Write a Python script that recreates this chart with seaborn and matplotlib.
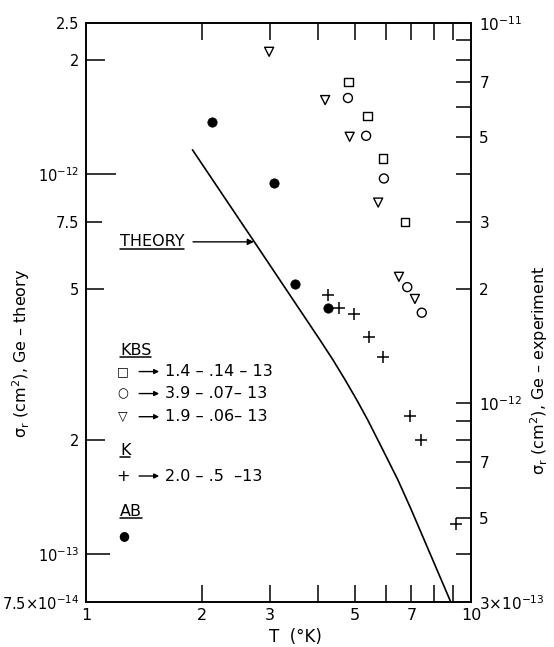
import numpy as np
import pandas as pd
import seaborn as sns
import matplotlib.pyplot as plt
from matplotlib.ticker import FixedLocator, FixedFormatter, NullFormatter, NullLocator
from matplotlib.lines import Line2D

# Theory curve (left axis, cm^2)
theory_T = [1.89, 2.77, 4.05, 4.38, 4.71, 5.05, 5.39, 5.91, 6.46, 7.00, 8.86]
theory_sigma = [1.16e-12, 6.52e-13, 3.67e-13, 3.25e-13, 2.88e-13, 2.55e-13,
                2.26e-13, 1.88e-13, 1.57e-13, 1.31e-13, 7.5e-14]

# AB (filled dots, left axis)
ab_T = [2.12, 3.08, 3.49, 4.26]
ab_sigma = [1.37e-12, 9.5e-13, 5.14e-13, 4.44e-13]

# KBS experiments (right axis)
kbs_sq_T = [4.81, 5.38, 5.91, 6.74]
kbs_sq_sigma = [7.0e-12, 5.7e-12, 4.4e-12, 3.0e-12]
kbs_ci_T = [4.79, 5.34, 5.94, 6.83, 7.45]
kbs_ci_sigma = [6.35e-12, 5.05e-12, 3.9e-12, 2.02e-12, 1.73e-12]
kbs_tri_T = [2.99, 4.18, 4.84, 5.74, 6.50, 7.15]
kbs_tri_sigma = [8.4e-12, 6.27e-12, 5.02e-12, 3.37e-12, 2.15e-12, 1.88e-12]

# K experiment (right axis)
k_T = [4.26, 4.55, 4.97, 5.44, 5.92, 6.94, 7.42, 9.14]
k_sigma = [1.92e-12, 1.78e-12, 1.72e-12, 1.49e-12, 1.32e-12, 9.25e-13, 8.0e-13, 4.8e-13]

# axis ticks
x_ticks = [1, 2, 3, 5, 7, 10]
x_labels = ["1", "2", "3", "5", "7", "10"]
x_minor = [4, 6, 8, 9]
left_ticks = [7.5e-14, 1e-13, 2e-13, 5e-13, 7.5e-13, 1e-12, 2e-12, 2.5e-12]
left_labels = ["7.5×10$^{-14}$", "10$^{-13}$", "2", "5", "7.5", "10$^{-12}$", "2", "2.5"]
left_lengths = [0, 17, 13.5, 13, 11.5, 21.5, 13.5, 0]
right_ticks = [3e-13, 5e-13, 7e-13, 1e-12, 2e-12, 3e-12, 5e-12, 7e-12, 1e-11]
right_labels = ["3×10$^{-13}$", "5", "7", "10$^{-12}$", "2", "3", "5", "7", "10$^{-11}$"]
right_minor = [4e-13, 6e-13, 8e-13, 9e-13, 4e-12, 6e-12, 8e-12, 9e-12]

# legend rows
legend_rows = [("□", "1.4 – .14 – 13"), ("○", "3.9 – .07– 13"), ("▽", "1.9 – .06– 13")]
k_row = ("+", "2.0 – .5  –13")

sns.set_style("ticks", {"axes.edgecolor": "black", "xtick.color": "black",
                        "ytick.color": "black", "text.color": "black",
                        "axes.labelcolor": "black"})
plt.rcParams['font.family'] = ['DejaVu Sans']
plt.rcParams['mathtext.fontset'] = 'dejavusans'
plt.rcParams['axes.linewidth'] = 1.2

fig, ax = plt.subplots(figsize=(5.54, 6.47), dpi=100)
fig.subplots_adjust(left=86/554, right=471/554, bottom=1-602/647, top=1-23/647)
ax2 = ax.twinx()

theory = pd.DataFrame({"T": theory_T, "sigma": theory_sigma})
sns.lineplot(data=theory, x="T", y="sigma", sort=False, estimator=None,
             color="black", lw=1.2, ax=ax)
sns.scatterplot(x=ab_T, y=ab_sigma, color="black", edgecolor="black", s=45, ax=ax, zorder=3)

sns.scatterplot(x=kbs_sq_T, y=kbs_sq_sigma, marker="s", s=36, color="black",
                facecolor="none", edgecolor="black", linewidth=1, ax=ax2)
sns.scatterplot(x=kbs_ci_T, y=kbs_ci_sigma, marker="o", s=42, color="black",
                facecolor="none", edgecolor="black", linewidth=1, ax=ax2)
sns.scatterplot(x=kbs_tri_T, y=kbs_tri_sigma, marker="v", s=42, color="black",
                facecolor="none", edgecolor="black", linewidth=1, ax=ax2)
sns.scatterplot(x=k_T, y=k_sigma, marker="+", s=65, color="black", linewidth=1.1, ax=ax2)

ax.set_xscale("log")
ax.set_yscale("log")
ax2.set_yscale("log")
ax.set_xlim(1, 10)
ax.set_ylim(7.5e-14, 2.5e-12)
ax2.set_ylim(3e-13, 1e-11)

ax.xaxis.set_major_locator(FixedLocator(x_ticks))
ax.xaxis.set_major_formatter(FixedFormatter(x_labels))
ax.xaxis.set_minor_locator(FixedLocator(x_minor))
ax.xaxis.set_minor_formatter(NullFormatter())
ax.tick_params(axis="x", which="both", direction="in", top=True, length=12.5,
               width=1.1, pad=4, labelsize=11.5)

ax.yaxis.set_major_locator(FixedLocator(left_ticks))
ax.yaxis.set_major_formatter(FixedFormatter(left_labels))
ax.yaxis.set_minor_locator(NullLocator())
ax.tick_params(axis="y", which="both", direction="in", right=False, length=13,
               width=1.1, pad=5, labelsize=10.5)

ax2.yaxis.set_major_locator(FixedLocator(right_ticks))
ax2.yaxis.set_major_formatter(FixedFormatter(right_labels))
ax2.yaxis.set_minor_locator(FixedLocator(right_minor))
ax2.yaxis.set_minor_formatter(NullFormatter())
ax2.tick_params(axis="y", which="both", direction="in", length=11,
                width=1.1, pad=6, labelsize=11)
for s in ax2.spines.values():
    s.set_linewidth(1.2)

# ticks sitting on the spines carry no mark
for tick, v in zip(ax.xaxis.get_major_ticks(), x_ticks):
    if v in (1, 10):
        tick.tick1line.set_markersize(0)
        tick.tick2line.set_markersize(0)
for tick, L in zip(ax.yaxis.get_major_ticks(), left_lengths):
    tick.tick1line.set_markersize(L)
for tick, v in zip(ax2.yaxis.get_major_ticks(), right_ticks):
    if v in (3e-13, 1e-11):
        tick.tick2line.set_markersize(0)

ax.set_xlabel("T  (°K)", fontsize=12)
ax.xaxis.set_label_coords(0.545, -0.045)
ax.set_ylabel("σ$_\\mathrm{r}$ (cm$^2$), Ge – theory", fontsize=11.5)
ax.yaxis.set_label_coords(-0.14, 0.43)
ax2.set_ylabel("σ$_\\mathrm{r}$ (cm$^2$), Ge – experiment", fontsize=11.5)
ax2.yaxis.set_label_coords(1.148, 0.40)

fs = 11.5
underlined = []
tr = ax.transAxes
underlined.append(ax.text(0.088, 0.622, "THEORY", transform=tr, fontsize=fs, va="center"))
ax.annotate("", xy=(0.436, 0.622), xytext=(0.278, 0.622), xycoords="axes fraction",
            arrowprops=dict(arrowstyle="-|>", color="black", lw=1, mutation_scale=9,
                            shrinkA=0, shrinkB=0))

underlined.append(ax.text(0.088, 0.435, "KBS", transform=tr, fontsize=fs, va="center"))
for (glyph, txt), y in zip(legend_rows, [0.398, 0.360, 0.320]):
    ax.text(0.095, y, glyph, transform=tr, fontsize=9, ha="center", va="center")
    ax.annotate("", xy=(0.190, y), xytext=(0.138, y), xycoords="axes fraction",
                arrowprops=dict(arrowstyle="-|>", color="black", lw=1, mutation_scale=7,
                                shrinkA=0, shrinkB=0))
    ax.text(0.205, y, txt, transform=tr, fontsize=fs, va="center")

underlined.append(ax.text(0.088, 0.2625, "K", transform=tr, fontsize=fs, va="center"))
ax.text(0.097, 0.2176, k_row[0], transform=tr, fontsize=fs, ha="center", va="center")
ax.annotate("", xy=(0.190, 0.2176), xytext=(0.138, 0.2176), xycoords="axes fraction",
            arrowprops=dict(arrowstyle="-|>", color="black", lw=1, mutation_scale=7,
                            shrinkA=0, shrinkB=0))
ax.text(0.205, 0.2176, k_row[1], transform=tr, fontsize=fs, va="center")

underlined.append(ax.text(0.088, 0.157, "AB", transform=tr, fontsize=fs, va="center"))
ax.text(0.097, 0.114, "●", transform=tr, fontsize=9, ha="center", va="center")

# underline the group headings
fig.canvas.draw()
inv = fig.transFigure.inverted()
for t in underlined:
    bb = t.get_window_extent().transformed(inv)
    y = bb.y0 + 0.001
    fig.add_artist(Line2D([bb.x0, bb.x1], [y, y], transform=fig.transFigure,
                          color="black", lw=1.1))

fig.savefig("out.png", dpi=100)
